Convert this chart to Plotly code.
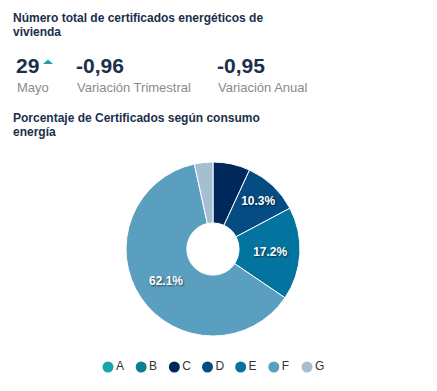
import plotly.graph_objects as go

categories = ["A", "B", "C", "D", "E", "F", "G"]
counts = [0, 0, 2, 3, 5, 18, 1]
colors = ["#17a5ae", "#0e7f90", "#00285a", "#044c82", "#0374a0", "#5b9fc0", "#a5bfd1"]
show_label = [False, False, False, True, True, True, False]

total_value = "29"
total_period = "Mayo"
var_trim = "-0,96"
var_anual = "-0,95"

# page body has an 8px default margin; work in window pixels and convert
OFF = 8
W, H = 421, 375

def px_x(x):
    return (x - OFF) / W

def px_y(y):
    return 1 - (y - OFF) / H

fig = go.Figure()

cx, cy, r = 213, 249, 87
texts = ["%{percent:.1%}" if s else "" for s in show_label]
fig.add_trace(go.Pie(
    labels=categories, values=counts, sort=False, direction="clockwise", rotation=0,
    hole=0.3, marker=dict(colors=colors, line=dict(color="white", width=1)),
    texttemplate=texts, textposition="inside", insidetextorientation="horizontal",
    textfont=dict(color="white", size=12, family="Liberation Sans", weight="bold",
                  shadow="1px 1px 2px rgba(0,0,0,0.6)"),
    showlegend=False, hoverinfo="label+percent",
    domain=dict(x=[px_x(cx - r), px_x(cx + r)], y=[px_y(cy + r), px_y(cy - r)]),
))

# custom legend row drawn on its own axis
fig.add_trace(go.Scatter(
    x=categories, y=[0] * len(categories), mode="markers+text",
    text=categories, textposition="middle right",
    textfont=dict(size=12, color="#333333", family="Liberation Sans"),
    marker=dict(color=colors, size=11, symbol="circle"),
    xaxis="x2", yaxis="y2", showlegend=False, hoverinfo="skip", cliponaxis=False,
))

navy = "#1b2f4b"
gray = "#8a8a8a"
ann = []
def add(text, x, y, size, color, bold=False, xanchor="left"):
    ann.append(dict(text=("<b>%s</b>" % text) if bold else text, x=px_x(x), y=px_y(y),
                    xref="paper", yref="paper", xanchor=xanchor, yanchor="middle",
                    showarrow=False, font=dict(size=size, color=color, family="Liberation Sans")))

add("Número total de certificados energéticos de", 11, 18, 12, navy, True)
add("vivienda", 11, 32, 12, navy, True)
add(total_value, 14, 65, 21, navy, True)
add(var_trim, 74, 65, 21, navy, True)
add(var_anual, 215, 65, 21, navy, True)
add(total_period, 15, 87, 13, gray)
add("Variación Trimestral", 75, 87, 13, gray)
add("Variación Anual", 216, 87, 13, gray)
add("Porcentaje de Certificados según consumo", 11, 118, 12, navy, True)
add("energía", 11, 132, 12, navy, True)

tri = "M %f %f L %f %f L %f %f Z" % (px_x(43), px_y(64), px_x(53), px_y(64), px_x(48), px_y(59.5))
shapes = [dict(type="path", xref="paper", yref="paper", path=tri,
               fillcolor="#17a5ae", line=dict(width=0))]

fig.update_layout(
    width=W, height=H, margin=dict(l=0, r=0, t=0, b=0),
    paper_bgcolor="white", plot_bgcolor="white",
    xaxis=dict(visible=False), yaxis=dict(visible=False),
    xaxis2=dict(visible=False, domain=[px_x(108), px_x(307)], range=[0, 6],
                type="category", anchor="y2"),
    yaxis2=dict(visible=False, domain=[px_y(377), px_y(357)], range=[-1, 1], anchor="x2"),
    annotations=ann, shapes=shapes,
    font=dict(family="Liberation Sans"),
)

fig.write_html("out.html")
